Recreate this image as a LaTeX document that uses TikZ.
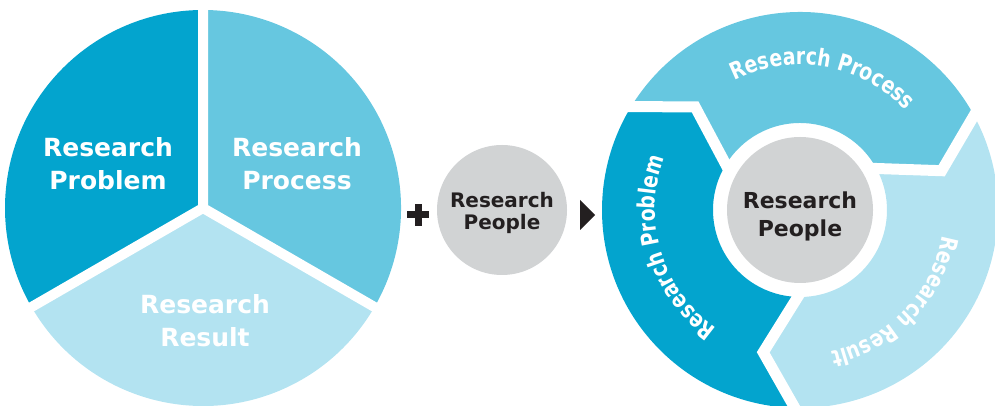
\documentclass[tikz,border=0pt]{standalone}
\usepackage{fontspec}
\setmainfont{DejaVu Sans}
\newfontfamily\ringfam{DejaVu Sans}[FakeStretch=0.8]
\usetikzlibrary{calc,decorations.text}
\definecolor{cdark}{HTML}{03A4CE}
\definecolor{cmid}{HTML}{66C7E0}
\definecolor{clight}{HTML}{B3E3F1}
\definecolor{cgray}{HTML}{D1D3D4}
\definecolor{ctext}{HTML}{231F20}
\newcommand\ringfont{\ringfam\fontsize{23.5}{24}\selectfont\bfseries\color{white}}
\begin{document}
\begin{tikzpicture}[x=1pt,y=1pt,
  gap/.style={white, line width=10pt, line cap=round},
  ringgap/.style={white, line width=11pt, line join=miter},
  bigtxt/.style={text=white, font=\fontsize{25}{33}\selectfont\bfseries, align=center, anchor=base, inner sep=0pt},
  midtxt/.style={text=ctext, font=\fontsize{20}{22.5}\selectfont\bfseries, align=center, anchor=base, inner sep=0pt},
  rctxt/.style={text=ctext, font=\fontsize{22}{28.5}\selectfont\bfseries, align=center, anchor=base, inner sep=0pt},
  disc/.style={circle, fill=cgray, inner sep=0pt}]
\useasboundingbox (0,0) rectangle (995,406);
\clip (0,0) rectangle (995,406);

% ---------- left pie ----------
\begin{scope}[shift={(203,198)}]
  \coordinate (pc) at (0,0);
  \fill[cdark] (pc) -- (90:198pt) arc[start angle=90,end angle=210,radius=198pt] -- cycle;
  \fill[cmid] (pc) -- (-30:198pt) arc[start angle=-30,end angle=90,radius=198pt] -- cycle;
  \fill[clight] (pc) -- (210:198pt) arc[start angle=210,end angle=330,radius=198pt] -- cycle;
  \draw[gap] (pc) -- (90:215pt) (pc) -- (210:215pt) (pc) -- (330:215pt);
\end{scope}
\node[bigtxt] (lprob) at (108,216) {Research\\Problem};
\node[bigtxt] (lproc) at (297,216) {Research\\Process};
\node[bigtxt] (lres) at (205,59) {Research\\Result};

% ---------- plus, middle disc, arrow ----------
\coordinate (plus) at (418,191);
\draw[ctext, line width=7pt] ($(plus)+(-11,0)$) -- ($(plus)+(11,0)$)
  ($(plus)+(0,-11)$) -- ($(plus)+(0,11)$);
\node[disc, minimum size=130pt] (mid) at (502,196) {};
\node[midtxt] (midt) at (502,176) {Research\\People};
\fill[ctext] (580,206) -- (595,191) -- (580,176) -- cycle;

% ---------- right ring ----------
\begin{scope}[shift={(800,196)}]
  \fill[cmid] (148.5:198pt) arc[start angle=148.5,end angle=28.5,radius=198pt]
    -- (15.5:147pt) -- (28.5:87pt) arc[start angle=28.5,end angle=148.5,radius=87pt]
    -- (135.5:147pt) -- cycle;
  \fill[clight] (28.5:198pt) arc[start angle=28.5,end angle=-91.5,radius=198pt]
    -- (-104.5:147pt) -- (-91.5:87pt) arc[start angle=-91.5,end angle=28.5,radius=87pt]
    -- (15.5:147pt) -- cycle;
  \fill[cdark] (268.5:198pt) arc[start angle=268.5,end angle=148.5,radius=198pt]
    -- (135.5:147pt) -- (148.5:87pt) arc[start angle=148.5,end angle=268.5,radius=87pt]
    -- (255.5:147pt) -- cycle;
  \draw[ringgap] ($(135.5:147pt)!1.4!(148.5:198pt)$) -- (135.5:147pt) -- ($(135.5:147pt)!1.15!(148.5:87pt)$);
  \draw[ringgap] ($(15.5:147pt)!1.4!(28.5:198pt)$) -- (15.5:147pt) -- ($(15.5:147pt)!1.15!(28.5:87pt)$);
  \draw[ringgap] ($(255.5:147pt)!1.4!(268.5:198pt)$) -- (255.5:147pt) -- ($(255.5:147pt)!1.15!(268.5:87pt)$);
  \path[decorate, decoration={text along path, text={|\ringfont|Research Process}, text align=center}]
    (140:145pt) arc[start angle=140,end angle=20,radius=145pt];
  \path[decorate, decoration={text along path, text={|\ringfont|Research Problem}, text align=center}]
    (257:145pt) arc[start angle=257,end angle=137,radius=145pt];
  \path[decorate, decoration={text along path, text={|\ringfont|Research Result}, text align=center}]
    (16:145pt) arc[start angle=16,end angle=-104,radius=145pt];
\end{scope}
\node[disc, minimum size=146pt] (rc) at (800,196) {};
\node[rctxt] (rct) at (800,169) {Research\\People};
\end{tikzpicture}
\end{document}
